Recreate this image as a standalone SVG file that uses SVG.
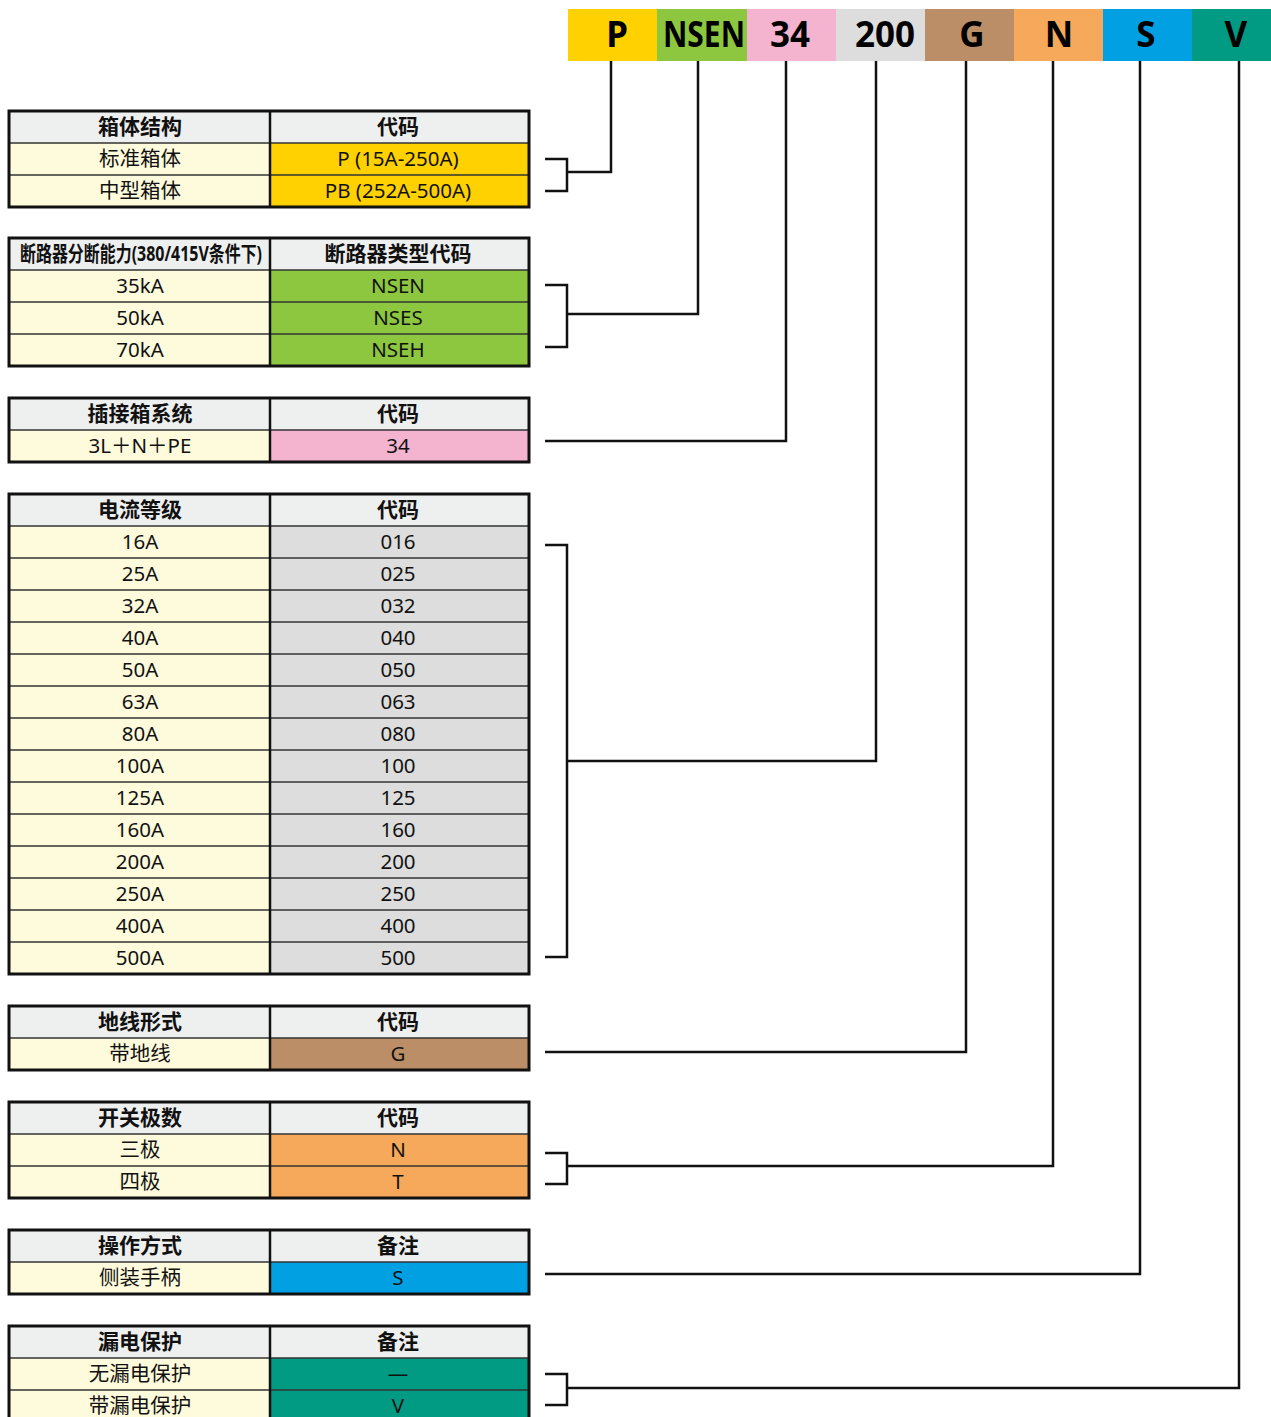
<svg xmlns="http://www.w3.org/2000/svg" width="1271" height="1417" viewBox="0 0 1271 1417">
<style>
.hd{font-family:"Noto Sans","Noto Sans CJK SC",sans-serif;font-weight:700;font-size:35px;text-anchor:middle;fill:#000}
.th{font-family:"Noto Sans","Noto Sans CJK SC",sans-serif;font-weight:700;font-size:21px;text-anchor:middle;fill:#111}
.td{font-family:"Noto Sans","Noto Sans CJK SC",sans-serif;font-size:20.5px;text-anchor:middle;fill:#111}
.hdr{fill:#EEEFEF}
.lc{fill:#FEFADC}
.ob{fill:none;stroke:#111;stroke-width:3}
.il{stroke:#333;stroke-width:1.5}
.dv{stroke:#111;stroke-width:2.5}
.cn{fill:none;stroke:#111;stroke-width:2.5}
.c1{fill:#FFD100}.c2{fill:#8DC63F}.c3{fill:#F4B4CF}.c4{fill:#DCDDDC}.c5{fill:#BC8E67}.c6{fill:#F6A95A}.c7{fill:#00A0E3}.c8{fill:#009B82}
</style>

<g id="code-bar">
<rect class="c1" x="568" y="9" width="89" height="52"/>
<rect class="c2" x="657" y="9" width="90" height="52"/>
<rect class="c3" x="747" y="9" width="89" height="52"/>
<rect class="c4" x="836" y="9" width="89" height="52"/>
<rect class="c5" x="925" y="9" width="89" height="52"/>
<rect class="c6" x="1014" y="9" width="89" height="52"/>
<rect class="c7" x="1103" y="9" width="89" height="52"/>
<rect class="c8" x="1192" y="9" width="79" height="52"/>
<text class="hd" x="617" y="47">P</text>
<text class="hd" x="704" y="47" textLength="82" lengthAdjust="spacingAndGlyphs">NSEN</text>
<text class="hd" x="790" y="47">34</text>
<text class="hd" x="885" y="47">200</text>
<text class="hd" x="972" y="47">G</text>
<text class="hd" x="1059" y="47">N</text>
<text class="hd" x="1146" y="47">S</text>
<text class="hd" x="1236" y="47">V</text>
</g>

<g id="table-box">
<rect class="hdr" x="9" y="111" width="520" height="32"/>
<rect class="lc" x="9" y="143" width="261" height="64"/>
<rect class="c1" x="270" y="143" width="259" height="64"/>
<line class="il" x1="9" y1="143" x2="529" y2="143"/>
<line class="il" x1="9" y1="175" x2="529" y2="175"/>
<line class="dv" x1="270" y1="111" x2="270" y2="207"/>
<rect class="ob" x="9" y="111" width="520" height="96"/>
<text class="th" x="140" y="134">箱体结构</text>
<text class="th" x="398" y="134">代码</text>
<text class="td" x="140" y="166">标准箱体</text>
<text class="td" x="398" y="166">P (15A-250A)</text>
<text class="td" x="140" y="198">中型箱体</text>
<text class="td" x="398" y="198">PB (252A-500A)</text>
</g>

<g id="table-breaker">
<rect class="hdr" x="9" y="238" width="520" height="32"/>
<rect class="lc" x="9" y="270" width="261" height="96"/>
<rect class="c2" x="270" y="270" width="259" height="96"/>
<line class="il" x1="9" y1="270" x2="529" y2="270"/>
<line class="il" x1="9" y1="302" x2="529" y2="302"/>
<line class="il" x1="9" y1="334" x2="529" y2="334"/>
<line class="dv" x1="270" y1="238" x2="270" y2="366"/>
<rect class="ob" x="9" y="238" width="520" height="128"/>
<text class="th" x="141" y="261" textLength="242" lengthAdjust="spacingAndGlyphs">断路器分断能力(380/415V条件下)</text>
<text class="th" x="398" y="261">断路器类型代码</text>
<text class="td" x="140" y="293">35kA</text>
<text class="td" x="398" y="293">NSEN</text>
<text class="td" x="140" y="325">50kA</text>
<text class="td" x="398" y="325">NSES</text>
<text class="td" x="140" y="357">70kA</text>
<text class="td" x="398" y="357">NSEH</text>
</g>

<g id="table-system">
<rect class="hdr" x="9" y="398" width="520" height="32"/>
<rect class="lc" x="9" y="430" width="261" height="32"/>
<rect class="c3" x="270" y="430" width="259" height="32"/>
<line class="il" x1="9" y1="430" x2="529" y2="430"/>
<line class="dv" x1="270" y1="398" x2="270" y2="462"/>
<rect class="ob" x="9" y="398" width="520" height="64"/>
<text class="th" x="140" y="421">插接箱系统</text>
<text class="th" x="398" y="421">代码</text>
<text class="td" x="140" y="453">3L＋N＋PE</text>
<text class="td" x="398" y="453">34</text>
</g>

<g id="table-current">
<rect class="hdr" x="9" y="494" width="520" height="32"/>
<rect class="lc" x="9" y="526" width="261" height="448"/>
<rect class="c4" x="270" y="526" width="259" height="448"/>
<line class="il" x1="9" y1="526" x2="529" y2="526"/>
<line class="il" x1="9" y1="558" x2="529" y2="558"/>
<line class="il" x1="9" y1="590" x2="529" y2="590"/>
<line class="il" x1="9" y1="622" x2="529" y2="622"/>
<line class="il" x1="9" y1="654" x2="529" y2="654"/>
<line class="il" x1="9" y1="686" x2="529" y2="686"/>
<line class="il" x1="9" y1="718" x2="529" y2="718"/>
<line class="il" x1="9" y1="750" x2="529" y2="750"/>
<line class="il" x1="9" y1="782" x2="529" y2="782"/>
<line class="il" x1="9" y1="814" x2="529" y2="814"/>
<line class="il" x1="9" y1="846" x2="529" y2="846"/>
<line class="il" x1="9" y1="878" x2="529" y2="878"/>
<line class="il" x1="9" y1="910" x2="529" y2="910"/>
<line class="il" x1="9" y1="942" x2="529" y2="942"/>
<line class="dv" x1="270" y1="494" x2="270" y2="974"/>
<rect class="ob" x="9" y="494" width="520" height="480"/>
<text class="th" x="140" y="517">电流等级</text>
<text class="th" x="398" y="517">代码</text>
<text class="td" x="140" y="549">16A</text><text class="td" x="398" y="549">016</text>
<text class="td" x="140" y="581">25A</text><text class="td" x="398" y="581">025</text>
<text class="td" x="140" y="613">32A</text><text class="td" x="398" y="613">032</text>
<text class="td" x="140" y="645">40A</text><text class="td" x="398" y="645">040</text>
<text class="td" x="140" y="677">50A</text><text class="td" x="398" y="677">050</text>
<text class="td" x="140" y="709">63A</text><text class="td" x="398" y="709">063</text>
<text class="td" x="140" y="741">80A</text><text class="td" x="398" y="741">080</text>
<text class="td" x="140" y="773">100A</text><text class="td" x="398" y="773">100</text>
<text class="td" x="140" y="805">125A</text><text class="td" x="398" y="805">125</text>
<text class="td" x="140" y="837">160A</text><text class="td" x="398" y="837">160</text>
<text class="td" x="140" y="869">200A</text><text class="td" x="398" y="869">200</text>
<text class="td" x="140" y="901">250A</text><text class="td" x="398" y="901">250</text>
<text class="td" x="140" y="933">400A</text><text class="td" x="398" y="933">400</text>
<text class="td" x="140" y="965">500A</text><text class="td" x="398" y="965">500</text>
</g>

<g id="table-ground">
<rect class="hdr" x="9" y="1006" width="520" height="32"/>
<rect class="lc" x="9" y="1038" width="261" height="32"/>
<rect class="c5" x="270" y="1038" width="259" height="32"/>
<line class="il" x1="9" y1="1038" x2="529" y2="1038"/>
<line class="dv" x1="270" y1="1006" x2="270" y2="1070"/>
<rect class="ob" x="9" y="1006" width="520" height="64"/>
<text class="th" x="140" y="1029">地线形式</text>
<text class="th" x="398" y="1029">代码</text>
<text class="td" x="140" y="1061">带地线</text>
<text class="td" x="398" y="1061">G</text>
</g>

<g id="table-poles">
<rect class="hdr" x="9" y="1102" width="520" height="32"/>
<rect class="lc" x="9" y="1134" width="261" height="64"/>
<rect class="c6" x="270" y="1134" width="259" height="64"/>
<line class="il" x1="9" y1="1134" x2="529" y2="1134"/>
<line class="il" x1="9" y1="1166" x2="529" y2="1166"/>
<line class="dv" x1="270" y1="1102" x2="270" y2="1198"/>
<rect class="ob" x="9" y="1102" width="520" height="96"/>
<text class="th" x="140" y="1125">开关极数</text>
<text class="th" x="398" y="1125">代码</text>
<text class="td" x="140" y="1157">三极</text>
<text class="td" x="398" y="1157">N</text>
<text class="td" x="140" y="1189">四极</text>
<text class="td" x="398" y="1189">T</text>
</g>

<g id="table-operation">
<rect class="hdr" x="9" y="1230" width="520" height="32"/>
<rect class="lc" x="9" y="1262" width="261" height="32"/>
<rect class="c7" x="270" y="1262" width="259" height="32"/>
<line class="il" x1="9" y1="1262" x2="529" y2="1262"/>
<line class="dv" x1="270" y1="1230" x2="270" y2="1294"/>
<rect class="ob" x="9" y="1230" width="520" height="64"/>
<text class="th" x="140" y="1253">操作方式</text>
<text class="th" x="398" y="1253">备注</text>
<text class="td" x="140" y="1285">侧装手柄</text>
<text class="td" x="398" y="1285">S</text>
</g>

<g id="table-leakage">
<rect class="hdr" x="9" y="1326" width="520" height="32"/>
<rect class="lc" x="9" y="1358" width="261" height="64"/>
<rect class="c8" x="270" y="1358" width="259" height="64"/>
<line class="il" x1="9" y1="1358" x2="529" y2="1358"/>
<line class="il" x1="9" y1="1390" x2="529" y2="1390"/>
<line class="dv" x1="270" y1="1326" x2="270" y2="1422"/>
<rect class="ob" x="9" y="1326" width="520" height="96"/>
<text class="th" x="140" y="1349">漏电保护</text>
<text class="th" x="398" y="1349">备注</text>
<text class="td" x="140" y="1381">无漏电保护</text>
<text class="td" x="398" y="1381">—</text>
<text class="td" x="140" y="1413">带漏电保护</text>
<text class="td" x="398" y="1413">V</text>
</g>

<g id="connectors">
<polyline class="cn" points="545,159 567,159 567,191 545,191"/>
<polyline class="cn" points="567,172 611,172 611,61"/>
<polyline class="cn" points="545,285 567,285 567,347 545,347"/>
<polyline class="cn" points="567,314 698,314 698,61"/>
<polyline class="cn" points="545,441 786,441 786,61"/>
<polyline class="cn" points="545,545 567,545 567,957 545,957"/>
<polyline class="cn" points="567,761 876,761 876,61"/>
<polyline class="cn" points="545,1052 966,1052 966,61"/>
<polyline class="cn" points="545,1153 567,1153 567,1184 545,1184"/>
<polyline class="cn" points="567,1166 1053,1166 1053,61"/>
<polyline class="cn" points="545,1274 1140,1274 1140,61"/>
<polyline class="cn" points="545,1374 567,1374 567,1405 545,1405"/>
<polyline class="cn" points="567,1388 1239,1388 1239,61"/>
</g>
</svg>
